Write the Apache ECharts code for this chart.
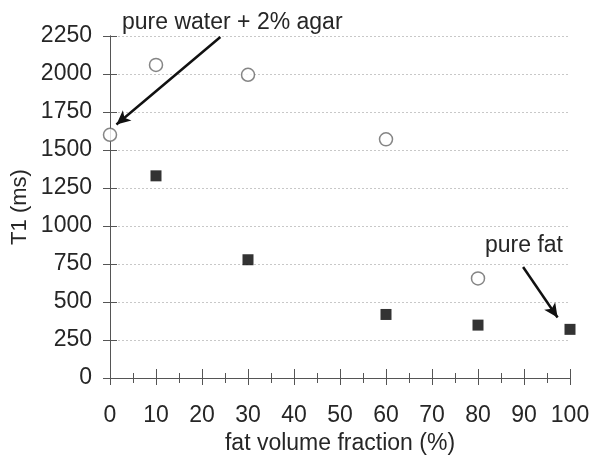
<!DOCTYPE html>
<html><head><meta charset="utf-8">
<script src="https://cdn.jsdelivr.net/npm/echarts@6/dist/echarts.min.js"></script>
<style>html,body{margin:0;padding:0;background:#fff}#c{width:590px;height:457px}</style>
</head><body><div id="c"></div>
<script>
var fatFraction = [0, 10, 30, 60, 80];
var waterT1 = [1600, 2060, 1995, 1570, 655];
var fatFraction2 = [10, 30, 60, 80, 100];
var fatT1 = [1330, 778, 418, 348, 320];
var xTicks = [0,10,20,30,40,50,60,70,80,90,100];
var yTicks = [0,250,500,750,1000,1250,1500,1750,2000,2250];
var xName = 'fat volume fraction (%)';
var yName = 'T1 (ms)';
var annWater = {text: 'pure water + 2% agar', from: [24, 2243], to: [1.4, 1668]};
var annFat = {text: 'pure fat', from: [89.8, 730], to: [97.3, 398]};

var FONT = 'Liberation Sans, Arial, sans-serif';
var TXT = '#262626';
var FS = 23;
var chart = echarts.init(document.getElementById('c'));
function pairs(xs, ys){ return xs.map(function(x,i){return [x, ys[i]];}); }
function xAx(inside, show){
  return {type:'value', min:xTicks[0], max:xTicks[xTicks.length-1], interval:10,
    position:'bottom',
    axisLine:{show:true, onZero:false, lineStyle:{color:'#555',width:1}},
    axisTick:{show:true, inside:inside, length:inside?9:7, lineStyle:{color:'#555'}},
    minorTick:{show:true, splitNumber:2, length:5, lineStyle:{color:'#555'}},
    splitLine:{show:false},
    axisLabel:{show:show, color:TXT, fontSize:FS, fontFamily:FONT, margin:26},
    name: show ? xName : '', nameLocation:'middle', nameGap:51,
    nameTextStyle:{color:TXT, fontSize:FS, fontFamily:FONT}
  };
}
function yAx(inside, show){
  return {type:'value', min:yTicks[0], max:yTicks[yTicks.length-1], interval:250,
    position:'left',
    axisLine:{show:true, lineStyle:{color:'#555',width:1}},
    axisTick:{show:true, inside:inside, length:7, lineStyle:{color:'#555'}},
    splitLine:{show:show, lineStyle:{color:'#c8c8c8', type:[2,2], width:1}},
    axisLabel:{show:show, color:TXT, fontSize:FS, fontFamily:FONT, margin:18,
      padding:[5,0,0,0],
      formatter:function(v){return String(v);}},
    name:''
  };
}
function arrowLine(a){
  return {silent:true, symbol:['none','arrow'], symbolSize:[10,14],
    label:{show:false},
    lineStyle:{color:'#111', width:2.5, type:'solid'},
    data:[[{coord:a.from},{coord:a.to}]]};
}
chart.setOption({
  animation:false,
  grid:{left:110, right:20, top:36, bottom:79, containLabel:false, outerBoundsMode:'none'},
  xAxis:[xAx(false,true), xAx(true,false)],
  yAxis:[yAx(false,true), yAx(true,false)],
  series:[
    {type:'scatter', data:pairs(fatFraction, waterT1), symbol:'circle', symbolSize:13,
     itemStyle:{color:'#fff', borderColor:'#666', borderWidth:1.5},
     markLine: arrowLine(annWater)},
    {type:'scatter', data:pairs(fatFraction2, fatT1), symbol:'rect', symbolSize:11,
     itemStyle:{color:'#000'},
     markLine: arrowLine(annFat)}
  ],
  graphic:[
    {type:'text', left:122, top:11, style:{text:annWater.text, fill:TXT, fontSize:FS, fontFamily:FONT}},
    {type:'text', left:485, top:234, style:{text:annFat.text, fill:TXT, fontSize:FS, fontFamily:FONT}},
    {type:'text', x:20, y:207, rotation:Math.PI/2,
     style:{text:yName, fill:TXT, fontSize:22, fontFamily:FONT, align:'center', verticalAlign:'middle'}}
  ]
});
</script></body></html>
